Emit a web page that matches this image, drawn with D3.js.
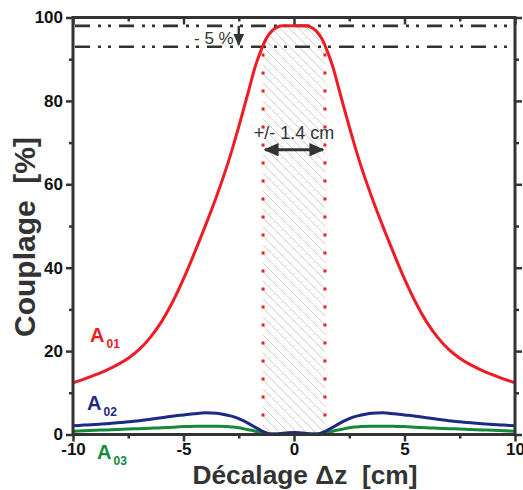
<!DOCTYPE html>
<html><head><meta charset="utf-8">
<script src="https://cdn.jsdelivr.net/npm/d3@7"></script>
<style>body{margin:0;background:#fff}svg{display:block;font-family:Arial,'Liberation Sans',sans-serif}text{white-space:pre}</style>
</head><body><svg id="c" width="523" height="490"></svg>
<script>
const xs = [-10,-9.5,-9,-8.5,-8,-7.5,-7,-6.5,-6,-5.5,-5,-4.5,-4,-3.5,-3,-2.75,-2.5,-2.25,-2,-1.75,-1.5,-1.25,-1,-0.75,-0.5,-0.25,0,
            0.25,0.5,0.75,1,1.25,1.5,1.75,2,2.25,2.5,2.75,3,3.5,4,4.5,5,5.5,6,6.5,7,7.5,8,8.5,9,9.5,10];
const a01 = [12.4,13.3,14.3,15.4,16.7,18.3,20.4,23.3,27.0,31.7,37.3,43.6,50.2,57.2,64.9,69.2,73.8,78.6,83.5,88.3,92,95,96.8,97.7,98,98,98,
             98,98,97.7,96.8,95,92,88.3,83.5,78.6,73.8,69.2,64.9,57.2,50.2,43.6,37.3,31.7,27.0,23.3,20.4,18.3,16.7,15.4,14.3,13.3,12.4];
const a02 = [2.1,2.25,2.4,2.6,2.8,3.05,3.3,3.65,4.0,4.4,4.7,5.0,5.2,5.1,4.6,4.3,3.8,3.2,2.5,1.7,1.0,0.4,0.1,0.15,0.3,0.45,0.5,
             0.45,0.3,0.15,0.1,0.4,1.0,1.7,2.5,3.2,3.8,4.3,4.6,5.1,5.2,5.0,4.7,4.4,4.0,3.65,3.3,3.05,2.8,2.6,2.4,2.25,2.1];
const a03 = [0.8,0.9,1.0,1.1,1.2,1.3,1.4,1.5,1.6,1.75,1.9,1.95,2.0,2.0,1.9,1.8,1.6,1.35,1.1,0.8,0.5,0.3,0.15,0.1,0.1,0.1,0.1,
             0.1,0.1,0.1,0.15,0.3,0.5,0.8,1.1,1.35,1.6,1.8,1.9,2.0,2.0,1.95,1.9,1.75,1.6,1.5,1.4,1.3,1.2,1.1,1.0,0.9,0.8];
const xMajor = [-10,-5,0,5,10];
const xMinor = [-7.5,-2.5,2.5,7.5];
const yMajor = [0,20,40,60,80,100];
const yMinor = [10,30,50,70,90];
const refLevels = [98,93];
const halfWidth = 1.4;
const arrowLevel = 68.3;

const svg = d3.select('#c');
const x = d3.scaleLinear().domain([-10,10]).range([73,515]);
const y = d3.scaleLinear().domain([0,100]).range([434.5,17.5]);
const ink = '#333';

const defs = svg.append('defs');
const pat = defs.append('pattern').attr('id','hatch').attr('patternUnits','userSpaceOnUse')
  .attr('width',9).attr('height',9);
pat.append('path').attr('d','M-2,-2 L11,11 M-2,7 L2,11 M7,-2 L11,2').attr('stroke','#c4c4c4').attr('stroke-width',0.8);
defs.append('clipPath').attr('id','band').append('rect')
  .attr('x',x(-halfWidth)).attr('y',0).attr('width',x(halfWidth)-x(-halfWidth)).attr('height',y(0));
defs.append('marker').attr('id','ah').attr('viewBox','0 0 10 10').attr('refX',9).attr('refY',5)
  .attr('markerWidth',5).attr('markerHeight',4.5).attr('preserveAspectRatio','none')
  .attr('markerUnits','strokeWidth').attr('orient','auto-start-reverse')
  .append('path').attr('d','M0,0 L10,5 L0,10 z').attr('fill',ink);

const pts = (arr)=>xs.map((v,i)=>[v,arr[i]]);
const area = d3.area().x(d=>x(d[0])).y0(y(0)).y1(d=>y(d[1])).curve(d3.curveMonotoneX);
svg.append('path').attr('d',area(pts(a01))).attr('fill','url(#hatch)').attr('clip-path','url(#band)');

svg.selectAll('.ref').data(refLevels).join('line')
  .attr('x1',x(-10)+2).attr('x2',x(10)-2).attr('y1',d=>y(d)).attr('y2',d=>y(d))
  .attr('stroke',ink).attr('stroke-width',2.6).attr('stroke-dasharray','15 8 3 7 3 8');

svg.selectAll('.vd').data([-halfWidth,halfWidth]).join('line')
  .attr('x1',d=>x(d)).attr('x2',d=>x(d)).attr('y1',y(0)).attr('y2',y(92))
  .attr('stroke','#ee1c24').attr('stroke-width',3).attr('stroke-dasharray','3 15');

const line = d3.line().x(d=>x(d[0])).y(d=>y(d[1])).curve(d3.curveMonotoneX);
[[a03,'#138a3a'],[a02,'#1c2a86'],[a01,'#ee1c24']].forEach(([arr,col])=>{
  svg.append('path').attr('d',line(pts(arr))).attr('fill','none').attr('stroke',col).attr('stroke-width',3);
});

svg.append('line').attr('x1',x(-halfWidth)+2).attr('x2',x(halfWidth)-2).attr('y1',y(arrowLevel)).attr('y2',y(arrowLevel))
  .attr('stroke',ink).attr('stroke-width',3).attr('marker-start','url(#ah)').attr('marker-end','url(#ah)');
svg.append('text').attr('x',x(0)).attr('y',139).attr('text-anchor','middle').attr('font-size',18).attr('fill',ink).text('+/- 1.4 cm');

svg.append('line').attr('x1',x(-2.5)).attr('x2',x(-2.5)).attr('y1',y(98)).attr('y2',y(93)-2)
  .attr('stroke',ink).attr('stroke-width',2.4).attr('marker-end','url(#ah)');
svg.append('text').attr('x',x(-2.5)-5).attr('y',44).attr('text-anchor','end').attr('font-size',17).attr('fill',ink).text('- 5 %');

const g = svg.append('g');
function axis(gen, pos, vals, size, labels){
  const a = g.append('g').attr('transform',pos).call(gen.tickValues(vals).tickSizeInner(size).tickSizeOuter(0)
     .tickFormat(labels? (d=>String(d)) : ()=>''));
  a.select('.domain').remove();
  a.selectAll('line').attr('stroke',ink).attr('stroke-width',2.5);
  a.selectAll('text').attr('font-size',17).attr('font-weight','bold').attr('fill','#111');
  return a;
}
const bx = axis(d3.axisBottom(x),`translate(0,${y(0)})`,xMajor,7,true);
bx.selectAll('text').attr('dy','0.6em');
axis(d3.axisBottom(x),`translate(0,${y(0)})`,xMinor,4,false);
axis(d3.axisTop(x),`translate(0,${y(100)})`,xMajor,-7,false);
axis(d3.axisTop(x),`translate(0,${y(100)})`,xMinor,-4,false);
axis(d3.axisLeft(y),`translate(${x(-10)},0)`,yMajor,7,true);
axis(d3.axisLeft(y),`translate(${x(-10)},0)`,yMinor,4,false);
axis(d3.axisLeft(y),`translate(${x(10)},0)`,yMajor,-7,false);
axis(d3.axisLeft(y),`translate(${x(10)},0)`,yMinor,-4,false);
svg.append('rect').attr('x',x(-10)).attr('y',y(100)).attr('width',x(10)-x(-10)).attr('height',y(0)-y(100))
  .attr('fill','none').attr('stroke',ink).attr('stroke-width',3);

svg.append('text').attr('transform',`translate(35,237) rotate(-90)`).attr('text-anchor','middle')
  .attr('font-size',30).attr('font-weight','bold').attr('fill',ink).text('Couplage  [%]');
svg.append('text').attr('x',305).attr('y',484).attr('text-anchor','middle')
  .attr('font-size',25).attr('font-weight','bold').attr('fill',ink)
  .attr('textLength',225).attr('lengthAdjust','spacingAndGlyphs').text('Décalage Δz  [cm]');

function lab(xp,yp,main,sub,col){
  const t = svg.append('text').attr('x',xp).attr('y',yp).attr('fill',col).attr('font-weight','bold').attr('font-size',20);
  t.append('tspan').text(main);
  t.append('tspan').attr('font-size',12).attr('dy',6).attr('dx',2).text(sub);
}
lab(90,342,'A','01','#ee1c24');
lab(87,410,'A','02','#1c2a86');
lab(97,459,'A','03','#138a3a');
</script></body></html>
